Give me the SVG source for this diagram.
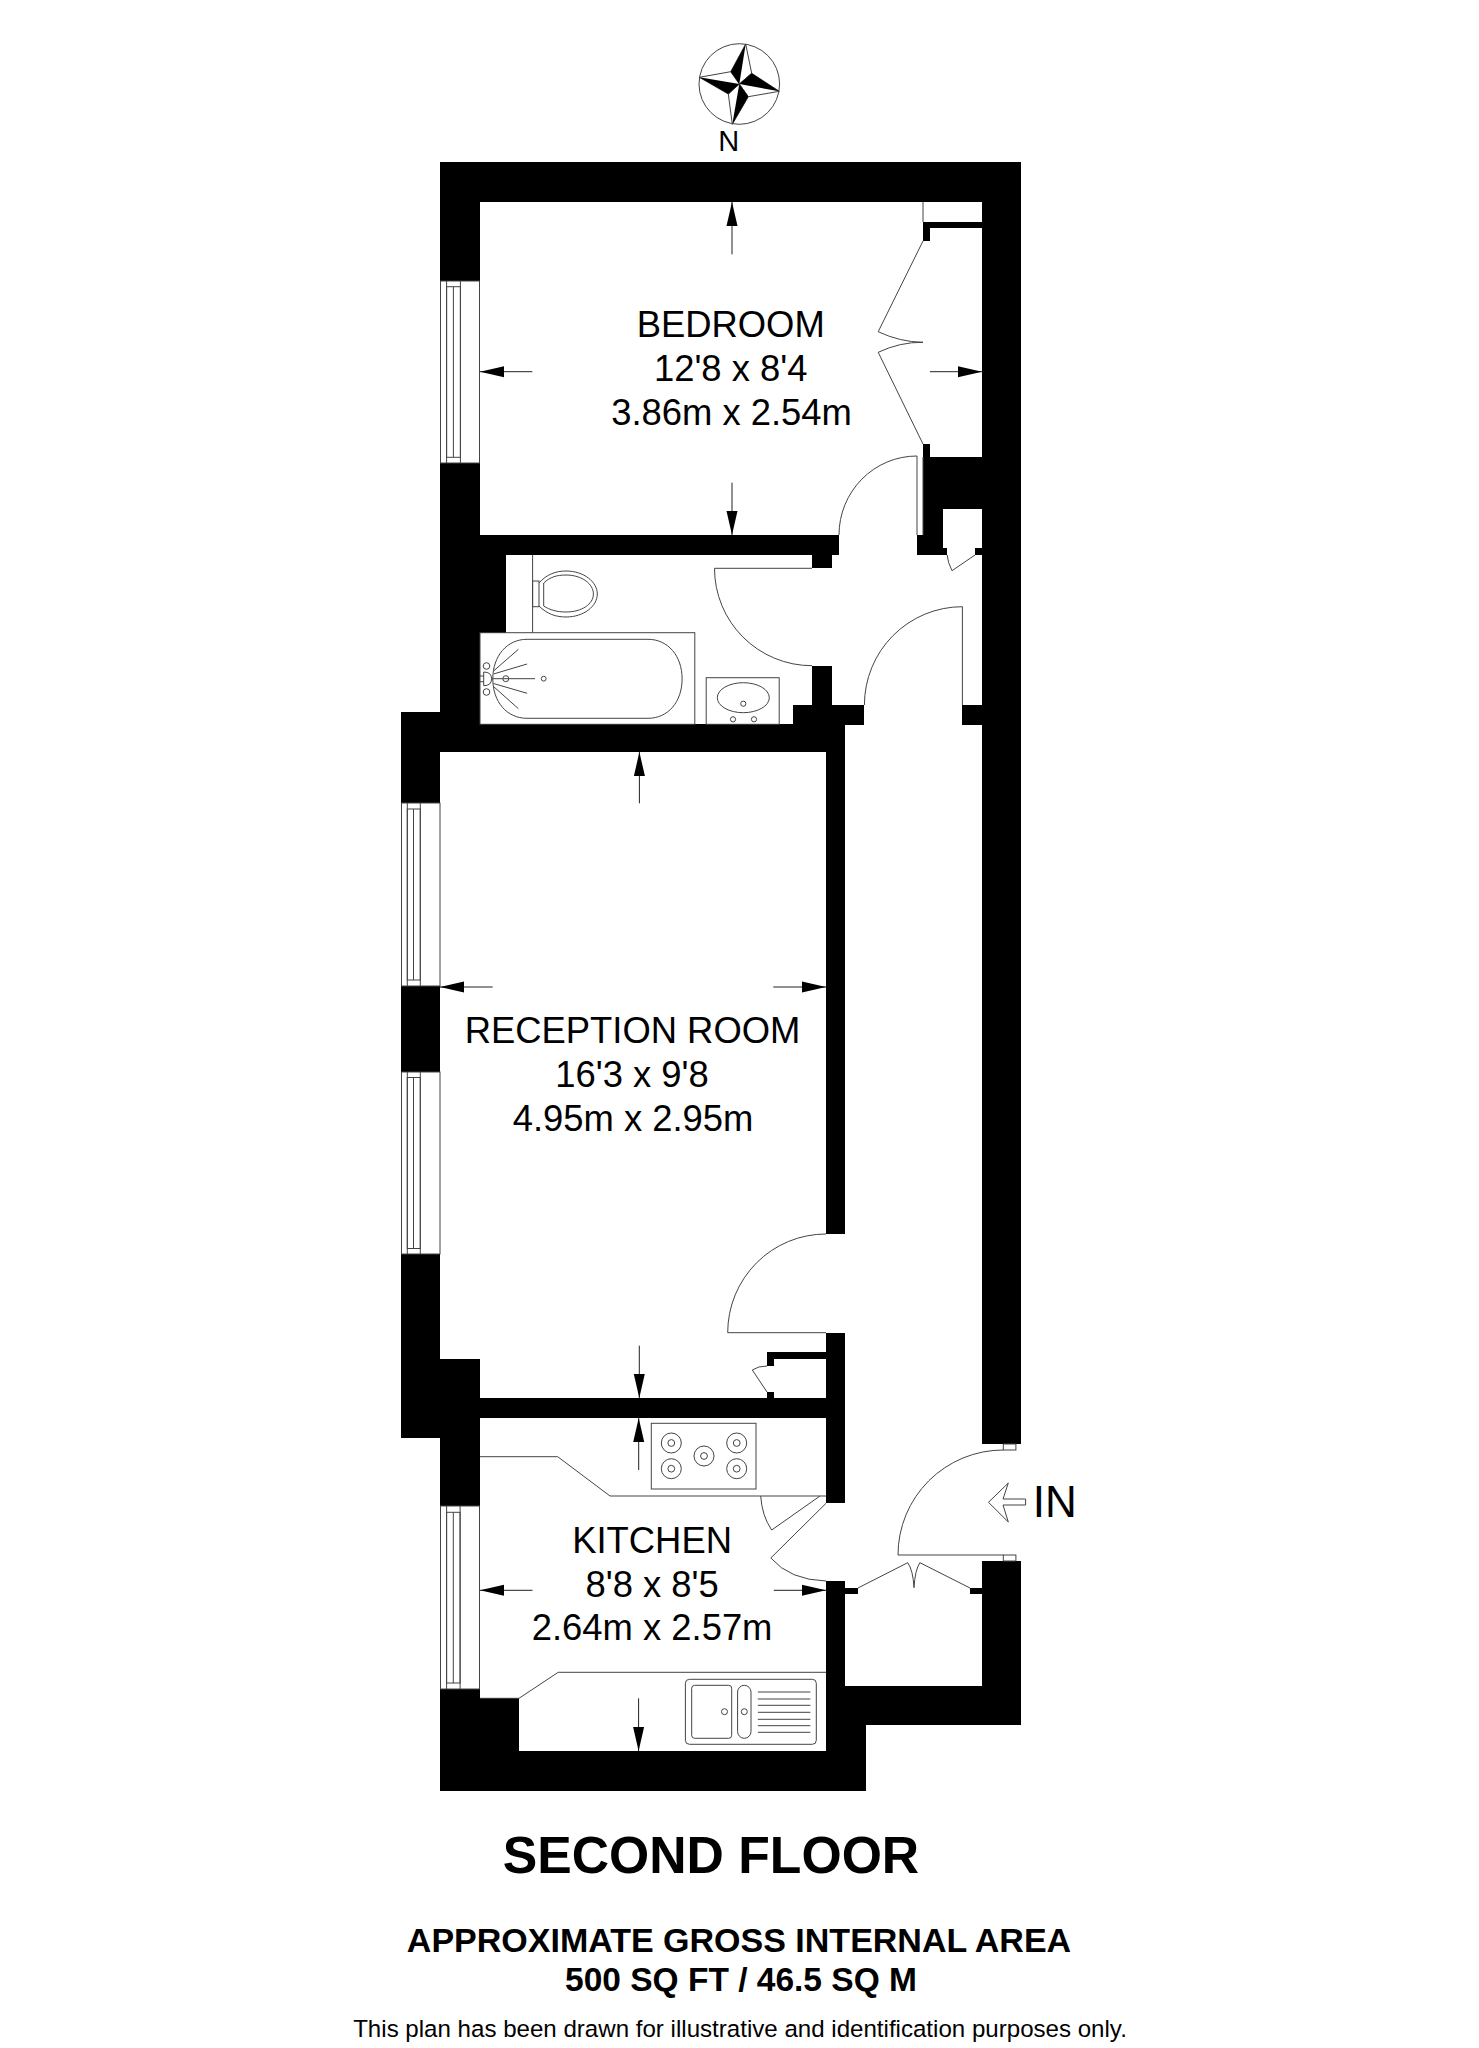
<svg xmlns="http://www.w3.org/2000/svg" width="1479" height="2048" viewBox="0 0 1479 2048">
<style>
.w{fill:#000;stroke:none}
.l{fill:none;stroke:#444;stroke-width:1}
.f{fill:#fff;stroke:#444;stroke-width:1}
.d{fill:none;stroke:#222;stroke-width:1;marker-end:url(#ah)}
.t{font-family:"Liberation Sans",Arial,sans-serif;fill:#000;text-anchor:middle}
.r{font-size:36.4px}
.b{font-weight:bold}
</style>
<defs>
<marker id="ah" markerUnits="userSpaceOnUse" markerWidth="24" markerHeight="12" refX="24" refY="6" orient="auto"><path d="M0 0.5L24 6L0 11.5z" fill="#000"/></marker>
</defs>
<rect width="1479" height="2048" fill="#fff"/>
<g id="compass">
<circle class="l" cx="739.3" cy="84" r="40.3"/>
<path class="f" d="M745.7 44L751.7 73.3L739.3 84L730.7 71.7z"/>
<path class="f" d="M779.3 91.3L748.3 96.7L739.3 84L751.7 73.3z"/>
<path class="f" d="M732.3 124.3L728.3 94L739.3 84L748.3 96.7z"/>
<path class="f" d="M699.3 77.3L730.7 71.7L739.3 84L728.3 94z"/>
<path class="w" d="M745.7 44L730.7 71.7L739.3 84z"/>
<path class="w" d="M779.3 91.3L751.7 73.3L739.3 84z"/>
<path class="w" d="M732.3 124.3L748.3 96.7L739.3 84z"/>
<path class="w" d="M699.3 77.3L728.3 94L739.3 84z"/>
<text class="t" x="728.7" y="151" font-size="29">N</text>
</g>
<g id="walls">
<path class="w" d="M440 162H1021V1444H982V509H943V548H947V555H917V535H923V457H982V228H930V241H923V222H982V202H480V281H440z"/>
<rect class="w" x="923" y="444" width="7" height="13"/>
<rect class="w" x="975" y="548" width="7" height="7"/>
<path class="w" d="M440 463H480V535H839V555H832V568H812V555H506V633H480V724H793V705H812V666H832V705H864V725H845V1234H826V752H440V803H401V712H440z"/>
<rect class="w" x="962" y="705" width="20" height="20"/>
<rect class="w" x="401" y="986" width="39" height="86"/>
<path class="w" d="M401 1254H440V1359H480V1398H826V1333H845V1503H826V1418H480V1506H440V1438H401z"/>
<path class="w" d="M767 1352H826V1359H774V1366H767z"/>
<rect class="w" x="767" y="1392" width="7" height="6"/>
<path class="w" d="M440 1689H480V1698H519V1751H826V1581H845V1686H982V1561H1021V1725H866V1791H440z"/>
<rect class="w" x="845" y="1588" width="13" height="6"/>
<rect class="w" x="970" y="1588" width="12" height="6"/>
</g>
<g id="windows">
<rect class="l" x="440.5" y="281" width="39" height="182"/>
<rect class="l" x="446.6" y="286.7" width="13.8" height="170.6"/>
<path class="l" d="M446.6 281V463M453.4 286.7V457.3M460.4 281V463"/>
<rect class="l" x="401.5" y="803" width="38.5" height="183"/>
<rect class="l" x="407.3" y="809" width="13" height="171"/>
<path class="l" d="M407.3 803V986M413.5 809V980M420.3 803V986"/>
<rect class="l" x="401.5" y="1072" width="38.5" height="182"/>
<rect class="l" x="407.3" y="1077.5" width="13" height="171"/>
<path class="l" d="M407.3 1072V1254M413.5 1077.5V1248.5M420.3 1072V1254"/>
<rect class="l" x="440.5" y="1506" width="39" height="183"/>
<rect class="l" x="446.6" y="1512.3" width="13.5" height="170.7"/>
<path class="l" d="M446.6 1506V1689M453.3 1512.3V1683M460.1 1506V1689"/>
</g>
<g id="doors">
<path class="l" d="M923 202V222"/>
<path class="l" d="M923 241L878.2 331.7Q900 342 923 342.3Q900 342 878.2 352.3L923 444"/>
<path class="l" d="M839 535A78 79 0 0 1 917 456V535"/>
<path class="l" d="M923 457V535"/>
<path class="l" d="M975 555L952 570.7Q947.5 562 947.2 555"/>
<path class="l" d="M812 568.3H714.5A97.5 97.4 0 0 0 812 665.7"/>
<path class="l" d="M864.4 705A98 98.3 0 0 1 962.4 606.7V705"/>
<path class="l" d="M826 1234A98.3 98.7 0 0 0 727.7 1332.7H826"/>
<path class="l" d="M767 1366Q758 1366 752.3 1370L767 1392"/>
<path class="l" d="M760.7 1496Q762 1516 771.7 1530L820 1496"/>
<path class="l" d="M826 1503.3L770.8 1558Q790 1580 826 1581"/>
<path class="l" d="M1003.3 1450A105.3 105 0 0 0 898 1555H1003.3"/>
<rect class="l" x="1003.3" y="1444" width="12.6" height="6"/>
<rect class="l" x="1003.3" y="1555" width="12.6" height="6"/>
<path class="l" d="M858 1588L907.7 1562.7Q913 1570 914 1587.7Q915 1570 919.9 1562.7L970 1588"/>
</g>
<g id="bathroom">
<path class="l" d="M532.6 555V632.7"/>
<rect class="l" x="532.6" y="581" width="6.4" height="25.7"/>
<path class="l" d="M539 583C547 574 556 571 566 571C584 571 597.3 582 597.3 594C597.3 606 584 617 566 617C556 617 547 614 539 606"/>
<path class="l" d="M543.7 583C550 577 557 575 566 575C582 575 593.4 584 593.4 594C593.4 604 582 612 566 612C557 612 550 610 543.7 606z"/>
<rect class="l" x="480" y="632.7" width="214.8" height="91.6"/>
<path class="l" d="M527 639.3H648C668 639.3 682.1 656 682.1 678.8C682.1 702 668 718.3 648 718.3H527C507 718.3 492.8 702 492.8 678.8C492.8 656 507 639.3 527 639.3z"/>
<circle class="l" cx="486.5" cy="666" r="3.3"/>
<circle class="l" cx="486.5" cy="692" r="3.3"/>
<path class="l" d="M483.7 672Q491.6 672 491.6 678.8Q491.6 685.7 483.7 685.7z"/>
<path class="l" d="M480 676H483.7M480 681.7H483.7"/>
<circle class="l" cx="505.8" cy="678.7" r="3"/>
<circle class="l" cx="543.7" cy="678.7" r="2.4"/>
<path class="l" d="M491.6 678.7H535M493.5 671L518.4 649.3M493.5 674L527.1 664M493.5 683.5L527.1 693.3M493.5 686.5L518.4 708.7"/>
<rect class="l" x="706.2" y="677.7" width="73" height="46.6"/>
<ellipse class="l" cx="743.3" cy="697.7" rx="26" ry="15"/>
<circle class="l" cx="743.3" cy="703.7" r="2.6"/>
<circle class="l" cx="733" cy="719.3" r="2.6"/>
<circle class="l" cx="754" cy="719.3" r="2.6"/>
</g>
<g id="kitchen-fittings">
<path class="l" d="M480 1456.7H557.7L610 1496H826"/>
<path class="l" d="M519 1698.3L558.2 1672.3H826M480 1698.3H519"/>
<rect class="l" x="651.3" y="1423.3" width="104.7" height="65.7"/>
<circle class="l" cx="671.3" cy="1443" r="10"/><circle class="l" cx="671.3" cy="1443" r="3.4"/>
<circle class="l" cx="671.3" cy="1468.7" r="10"/><circle class="l" cx="671.3" cy="1468.7" r="3.4"/>
<circle class="l" cx="704" cy="1456" r="10"/><circle class="l" cx="704" cy="1456" r="3.4"/>
<circle class="l" cx="736.7" cy="1443" r="10"/><circle class="l" cx="736.7" cy="1443" r="3.4"/>
<circle class="l" cx="736.7" cy="1468.7" r="10"/><circle class="l" cx="736.7" cy="1468.7" r="3.4"/>
<rect class="l" x="685.4" y="1679.3" width="130.9" height="65" rx="4"/>
<rect class="l" x="691.7" y="1685.3" width="40" height="53" rx="3"/>
<rect class="l" x="737.6" y="1685.3" width="13.4" height="53" rx="6.7"/>
<circle class="l" cx="724.5" cy="1711.7" r="3"/>
<circle class="l" cx="744.3" cy="1711.7" r="3"/>
<path class="l" d="M757.8 1692H810.4M757.8 1699H810.4M757.8 1705.3H810.4M757.8 1712.3H810.4M757.8 1719.3H810.4M757.8 1725.7H810.4M757.8 1732.3H810.4"/>
</g>
<g id="connectors">
<path class="d" d="M732 254.3V202"/>
<path class="d" d="M532.3 371.7H480"/>
<path class="d" d="M929.9 371.7H982"/>
<path class="d" d="M732 482.7V535"/>
<path class="d" d="M639.4 803.3V752"/>
<path class="d" d="M492.7 987H440"/>
<path class="d" d="M773.3 987H826"/>
<path class="d" d="M639.3 1345.7V1398"/>
<path class="d" d="M638.7 1470V1418"/>
<path class="d" d="M532.5 1590.3H480"/>
<path class="d" d="M773.8 1590.3H826"/>
<path class="d" d="M638.6 1698.3V1751"/>
<path class="l" d="M988.5 1502.3L1008.3 1483L1003 1499H1025.6V1505H1003L1008.3 1522z"/>
</g>
<g id="labels">
<text class="t r" x="730.7" y="336.7">BEDROOM</text>
<text class="t r" x="730.7" y="381">12'8 x 8'4</text>
<text class="t r" x="731.5" y="425">3.86m x 2.54m</text>
<text class="t r" x="632.5" y="1043.3">RECEPTION ROOM</text>
<text class="t r" x="632" y="1086.7">16'3 x 9'8</text>
<text class="t r" x="633" y="1130.7">4.95m x 2.95m</text>
<text class="t r" x="652.1" y="1552.7">KITCHEN</text>
<text class="t r" x="652.1" y="1596.7">8'8 x 8'5</text>
<text class="t r" x="652.1" y="1640">2.64m x 2.57m</text>
<text class="t" x="1054.8" y="1516.7" font-size="44">IN</text>
<text class="t b" x="711" y="1872.7" font-size="51.7">SECOND FLOOR</text>
<text class="t b" x="739" y="1951.7" font-size="34">APPROXIMATE GROSS INTERNAL AREA</text>
<text class="t b" x="741" y="1991" font-size="33.5">500 SQ FT / 46.5 SQ M</text>
<text class="t" x="740" y="2036.7" font-size="24.1">This plan has been drawn for illustrative and identification purposes only.</text>
</g>
</svg>
